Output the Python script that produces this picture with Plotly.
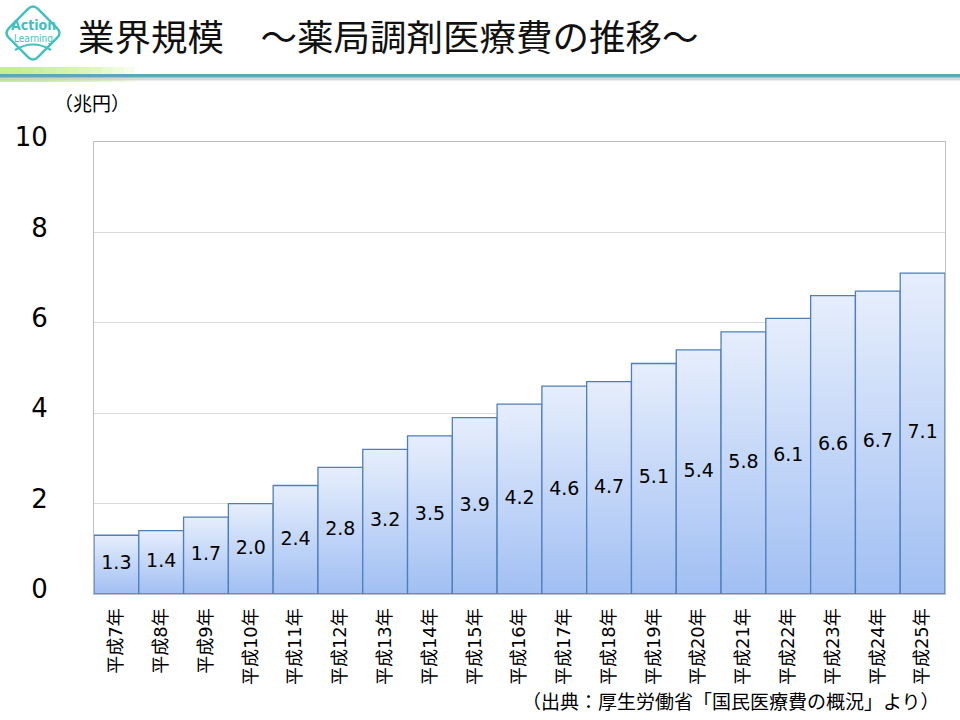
import plotly.graph_objects as go

# ---- data ----
categories = ["平成7年", "平成8年", "平成9年", "平成10年", "平成11年", "平成12年", "平成13年",
              "平成14年", "平成15年", "平成16年", "平成17年", "平成18年", "平成19年", "平成20年",
              "平成21年", "平成22年", "平成23年", "平成24年", "平成25年"]
values = [1.3, 1.4, 1.7, 2.0, 2.4, 2.8, 3.2, 3.5, 3.9, 4.2, 4.6, 4.7, 5.1, 5.4, 5.8, 6.1, 6.6, 6.7, 7.1]
value_labels = [f"{v:.1f}" for v in values]
y_ticks = [0, 2, 4, 6, 8, 10]
title_text = "業界規模　～薬局調剤医療費の推移～"
unit_text = "（兆円）"
source_text = "（出典：厚生労働省「国民医療費の概況」より）"

# ---- layout geometry (page pixels) ----
W, H = 960, 720
PL, PR, PT, PB = 94, 945, 142, 594          # plot area in page pixels
L, R, T, B = PL, W - PR, PT, H - PB
pw, ph = PR - PL, PB - PT


def px(x):
    return (x - PL) / pw


def py(y):
    return (PB - y) / ph


NUM_FONT = "DejaVu Sans, Noto Sans CJK JP"
JP_FONT = "Noto Sans CJK JP"

fig = go.Figure()

# bars as gradient-filled polygons (per-bar vertical gradient)
for i, v in enumerate(values):
    fig.add_trace(go.Scatter(
        x=[i - 0.5, i - 0.5, i + 0.5, i + 0.5, i - 0.5],
        y=[0, v, v, 0, 0],
        mode="lines", fill="toself",
        fillgradient=dict(type="vertical",
                          colorscale=[[0, "#a1bff3"], [1, "#e6eefc"]]),
        line=dict(color="#4f7fba", width=1.3),
        hoverinfo="skip", showlegend=False,
    ))

# value labels centred in bars
fig.add_trace(go.Scatter(
    x=list(range(len(values))), y=[v / 2 for v in values],
    mode="text", text=value_labels,
    textfont=dict(family=NUM_FONT, size=19, color="#000000"),
    hoverinfo="skip", showlegend=False,
))

shapes = []
# header green glow
n = 12
for k in range(n):
    shapes.append(dict(type="rect", xref="paper", yref="paper",
                       x0=px(0), x1=px(135 * (1 - k / n)), y0=py(82), y1=py(67),
                       fillcolor="#b6ef74", opacity=0.13, line=dict(width=0), layer="above"))
# teal header line + shadow
shapes.append(dict(type="rect", xref="paper", yref="paper",
                   x0=px(0), x1=px(960), y0=py(80.5), y1=py(77.5),
                   fillcolor="#c9c9c9", opacity=0.7, line=dict(width=0)))
shapes.append(dict(type="rect", xref="paper", yref="paper",
                   x0=px(0), x1=px(960), y0=py(77.5), y1=py(74),
                   fillcolor="#5aa8b9", line=dict(width=0)))

# logo: rounded diamond
cx, cy, hs, d = 33, 33, 29, 7
verts = [(cx, cy - hs), (cx + hs, cy), (cx, cy + hs), (cx - hs, cy)]


def lerp(a, b, t):
    return (a[0] + (b[0] - a[0]) * t, a[1] + (b[1] - a[1]) * t)


edge = (2 * hs * hs) ** 0.5
t = d / edge
path = ""
for k in range(4):
    prev_v = verts[k - 1]
    v = verts[k]
    nxt = verts[(k + 1) % 4]
    a = lerp(v, prev_v, t)
    b = lerp(v, nxt, t)
    cmd = "M" if k == 0 else "L"
    path += f"{cmd} {px(a[0])},{py(a[1])} Q {px(v[0])},{py(v[1])} {px(b[0])},{py(b[1])} "
path += "Z"
LOGO = "#45c0c0"
shapes.append(dict(type="path", xref="paper", yref="paper", path=path,
                   line=dict(color=LOGO, width=2.5)))
shapes.append(dict(type="path", xref="paper", yref="paper",
                   path=f"M {px(15)},{py(50)} Q {px(33)},{py(39)} {px(51)},{py(50)}",
                   line=dict(color=LOGO, width=2.2)))

LOGO_FONT = "Liberation Sans Narrow, DejaVu Sans Condensed"
annotations = [
    dict(text=title_text, xref="paper", yref="paper", x=px(76), y=py(36),
         xanchor="left", yanchor="middle", showarrow=False,
         font=dict(family=JP_FONT, size=36.5, color="#111111")),
    dict(text=unit_text, xref="paper", yref="paper", x=px(52), y=py(102),
         xanchor="left", yanchor="middle", showarrow=False,
         font=dict(family=JP_FONT, size=19, color="#000000")),
    dict(text=source_text, xref="paper", yref="paper", x=px(942), y=py(700),
         xanchor="right", yanchor="middle", showarrow=False,
         font=dict(family=JP_FONT, size=19, color="#000000")),
    dict(text="<b>Action</b>", xref="paper", yref="paper", x=px(33), y=py(25),
         xanchor="center", yanchor="middle", showarrow=False,
         font=dict(family=LOGO_FONT, size=14, color=LOGO)),
    dict(text="Learning", xref="paper", yref="paper", x=px(33), y=py(38.5),
         xanchor="center", yanchor="middle", showarrow=False,
         font=dict(family=LOGO_FONT, size=10, color=LOGO)),
]

fig.update_layout(
    width=W, height=H,
    margin=dict(l=L, r=R, t=T, b=B, autoexpand=False),
    paper_bgcolor="white", plot_bgcolor="white",
    showlegend=False,
    shapes=shapes, annotations=annotations,
    xaxis=dict(range=[-0.5, len(values) - 0.5], tickmode="array",
               tickvals=list(range(len(values))), ticktext=categories,
               tickangle=-90, showgrid=False, zeroline=False, automargin=False,
               showline=True, linecolor="#bfbfbf", linewidth=1, mirror=True,
               ticks="", ticklabelstandoff=6, layer="below traces",
               tickfont=dict(family=NUM_FONT, size=18, color="#000000"), fixedrange=True),
    yaxis=dict(range=[0, 10], tickmode="array", tickvals=y_ticks,
               showgrid=True, gridcolor="#d9d9d9", zeroline=False, automargin=False,
               showline=True, linecolor="#bfbfbf", linewidth=1, mirror=True,
               ticks="", ticklabelstandoff=40, ticklabelshift=-5, layer="below traces",
               tickfont=dict(family=NUM_FONT, size=26, color="#000000"), fixedrange=True),
)

fig.write_html("out.html",
               config={"displayModeBar": False},
               post_script="document.body.style.margin='0';document.body.style.overflow='hidden';")
